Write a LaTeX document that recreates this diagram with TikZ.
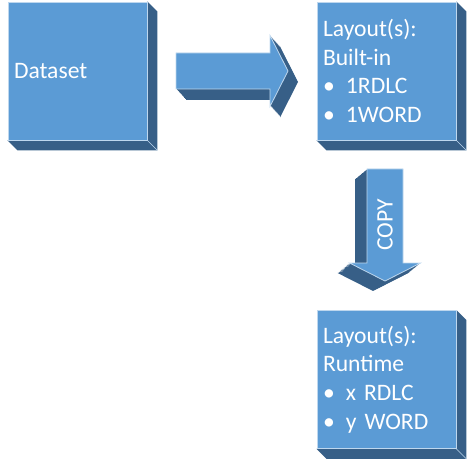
\documentclass[tikz,border=0pt]{standalone}
\usepackage{fontspec}
\setmainfont{Carlito}
\usetikzlibrary{positioning, calc, backgrounds}
\definecolor{faceblue}{RGB}{91,155,213}
\definecolor{sideblue}{RGB}{55,95,135}
\definecolor{edgeblue}{RGB}{190,215,238}

\tikzset{
    face/.style={fill=faceblue, draw=edgeblue, line width=0.8pt},
    side/.style={fill=sideblue},
    card/.style={face, text=white, minimum width=139pt, minimum height=138pt, text width=127pt, inner sep=6pt, align=left, font=\fontsize{23.6}{28.7}\selectfont},
    pics/blockarrow/.style={code={
        \path[pic actions] (0,-18) -- (94,-18) -- (94,-35.5) -- (112,0) -- (94,35.5) -- (94,18) -- (0,18) -- cycle;
    }}
}
\newcommand{\bul}{\makebox[23pt][l]{\textbullet}}

\begin{document}
\begin{tikzpicture}[x=1pt, y=-1pt]
        \useasboundingbox (0,0) rectangle (468,462);

        \node[card] (ds) at (77.5,71) {Dataset};
        \node[card] (lay1) at (386.5,71) {Layout(s):\\Built-in\\\bul 1RDLC\\\bul 1WORD};
        \node[card] (lay2) at (386.5,379.5) {Layout(s):\\Runtime\\\bul x RDLC\\\bul y WORD};

        % 3d sides of the boxes
        \begin{scope}[on background layer]
            \foreach \b in {ds, lay1, lay2} {
                \fill[side] (\b.north east) -- ++(10,10) -- ([shift={(10,10)}]\b.south east) -- ([shift={(10,10)}]\b.south west) -- (\b.south west) -- cycle;
                \draw[edgeblue, line width=0.6pt] (\b.south east) -- ++(10,10);
            }
        \end{scope}

        % block arrows
        \coordinate (ra) at (176,71);
        \coordinate (da) at (385,169);
        \foreach \k in {1,...,10}
            \pic[side] at ($(ra)+(\k,1.1*\k)$) {blockarrow};
        \pic[face] at (ra) {blockarrow};

        \foreach \k in {1,...,12}
            \pic[side, rotate=-90] at ($(da)+(-\k,0.83*\k)$) {blockarrow};
        \pic[face, rotate=-90] at (da) {blockarrow};
        \node[text=white, rotate=90, font=\fontsize{23.6}{28.7}\selectfont] (cp) at (385,225) {COPY};
\end{tikzpicture}
\end{document}
